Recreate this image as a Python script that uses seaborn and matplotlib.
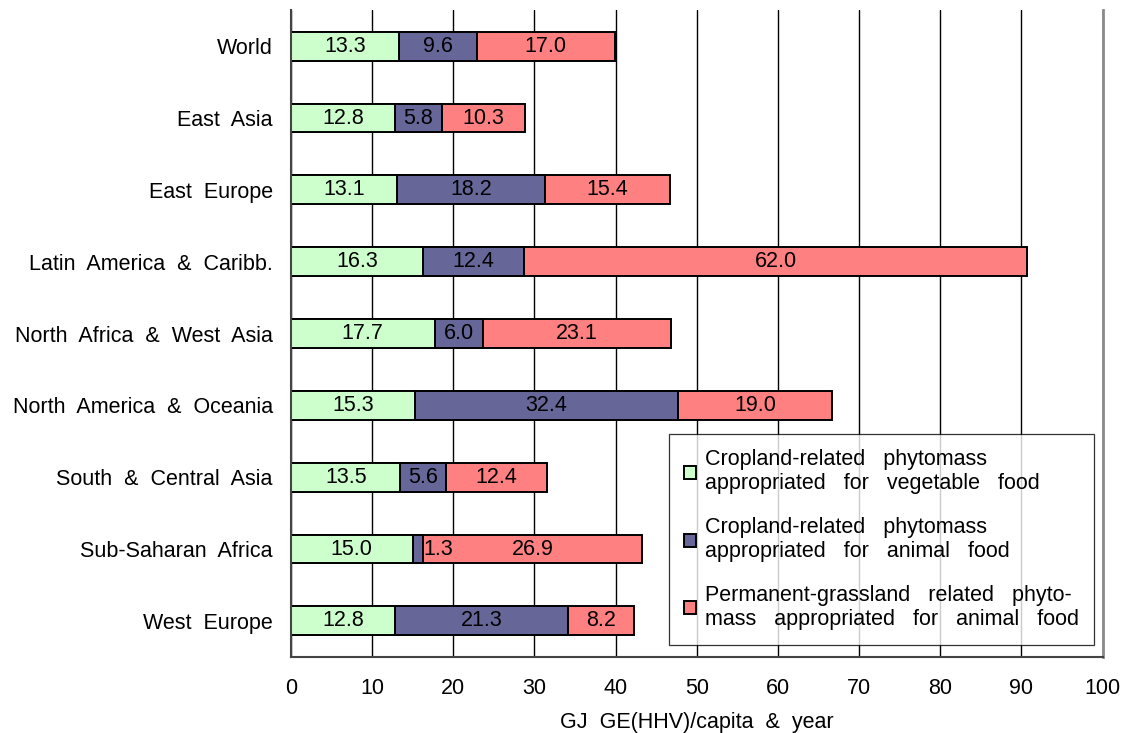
import matplotlib
matplotlib.use("Agg")
import matplotlib.pyplot as plt
import numpy as np
import pandas as pd
import seaborn as sns
from matplotlib.patches import Patch

regions = [
    "World",
    "East  Asia",
    "East  Europe",
    "Latin  America  &  Caribb.",
    "North  Africa  &  West  Asia",
    "North  America  &  Oceania",
    "South  &  Central  Asia",
    "Sub-Saharan  Africa",
    "West  Europe",
]
cropVeg = [13.3, 12.8, 13.1, 16.3, 17.7, 15.3, 13.5, 15.0, 12.8]
cropAnimal = [9.6, 5.8, 18.2, 12.4, 6.0, 32.4, 5.6, 1.3, 21.3]
grassAnimal = [17.0, 10.3, 15.4, 62.0, 23.1, 19.0, 12.4, 26.9, 8.2]

seriesNames = [
    "Cropland-related   phytomass\nappropriated   for   vegetable   food",
    "Cropland-related   phytomass\nappropriated   for   animal   food",
    "Permanent-grassland   related   phyto-\nmass   appropriated   for   animal   food",
]
colors = ["#CCFFCC", "#666699", "#FF8080"]

sns.set_style("white")
plt.rcParams["font.family"] = ["Liberation Sans", "DejaVu Sans"]
plt.rcParams["font.size"] = 15.5
plt.rcParams["text.color"] = "black"
plt.rcParams["axes.labelcolor"] = "black"
plt.rcParams["xtick.color"] = "black"
plt.rcParams["ytick.color"] = "black"

df = pd.DataFrame(
    {"region": regions, "veg": cropVeg, "animal": cropAnimal, "grass": grassAnimal}
)
df["c1"] = df["veg"]
df["c2"] = df["veg"] + df["animal"]
df["c3"] = df["c2"] + df["grass"]

fig = plt.figure(figsize=(11.32, 7.33), dpi=100)
ax = fig.add_axes([0.257, 0.104, 0.717, 0.882])

# stacked by drawing cumulative totals from back to front
for col, color in zip(["c3", "c2", "c1"], colors[::-1]):
    sns.barplot(
        data=df,
        x=col,
        y="region",
        order=regions,
        color=color,
        saturation=1,
        width=0.4,
        edgecolor="black",
        linewidth=1.4,
        ax=ax,
    )

# segment labels
for i, row in df.iterrows():
    starts = [0, row["c1"], row["c2"]]
    vals = [row["veg"], row["animal"], row["grass"]]
    for s, v in zip(starts, vals):
        if v < 2:
            ax.text(s + v, i, f"{v:.1f}", ha="left", va="center")
        else:
            ax.text(s + v / 2, i, f"{v:.1f}", ha="center", va="center")

ax.set_xlim(0, 100)
ax.set_ylim(8.5, -0.5)
ax.set_xticks(np.arange(0, 101, 10))
ax.set_yticks(np.arange(-0.5, 9, 1), minor=True)
ax.tick_params(axis="y", which="major", length=0, pad=13)
ax.tick_params(axis="y", which="minor", length=5, width=1, direction="out", color="#333333")
ax.tick_params(axis="x", which="major", length=5, width=1, direction="out", color="#333333", pad=10)
ax.xaxis.grid(True, color="black", linewidth=1.0)
ax.set_axisbelow(True)
ax.spines["top"].set_visible(False)
ax.spines["right"].set_color("#8a8a8a")
ax.spines["right"].set_linewidth(2.0)
for side in ["left", "bottom"]:
    ax.spines[side].set_color("#444444")
    ax.spines[side].set_linewidth(1.5)

ax.set_xlabel("GJ  GE(HHV)/capita  &  year", labelpad=10)
ax.set_ylabel("")

handles = [Patch(facecolor=c, edgecolor="black", linewidth=1.4) for c in colors]
leg = ax.legend(
    handles,
    seriesNames,
    loc="lower right",
    bbox_to_anchor=(0.99, 0.018),
    frameon=True,
    fancybox=False,
    edgecolor="black",
    handlelength=0.55,
    handleheight=0.55,
    handletextpad=0.45,
    labelspacing=1.05,
    borderpad=0.7,
    borderaxespad=0,
)
leg.get_frame().set_linewidth(0.9)

fig.savefig("out.png", dpi=100)
